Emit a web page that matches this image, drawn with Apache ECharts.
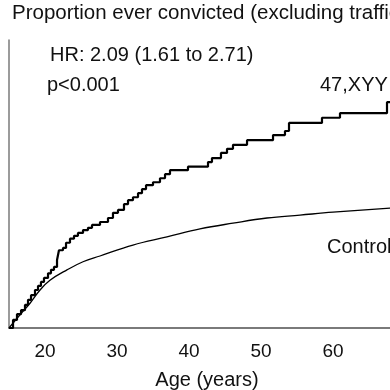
<!DOCTYPE html>
<html>
<head>
<meta charset="utf-8">
<script src="https://cdn.jsdelivr.net/npm/echarts@6/dist/echarts.min.js"></script>
<style>
html,body{margin:0;padding:0;background:#fff;}
#chart{width:390px;height:390px;}
</style>
</head>
<body>
<div id="chart"></div>
<script>
// Kaplan-Meier style cumulative proportion ever convicted
const xyyAges = [15.0, 15.56, 16.11, 16.67, 17.22, 17.64, 18.06, 18.61, 19.03, 19.44, 19.86, 20.42, 20.83, 21.25, 21.67, 21.94, 22.5, 22.92, 23.47, 24.03, 24.58, 25.28, 25.97, 26.53, 27.64, 28.75, 29.44, 30.14, 30.97, 31.53, 32.22, 32.92, 33.47, 34.03, 35.0, 35.97, 36.67, 37.36, 39.86, 42.64, 43.19, 44.44, 45.28, 46.11, 48.06, 51.67, 53.33, 53.89, 58.47, 60.97, 67.5, 70.0];
const xyyProportion = [0, 0.014, 0.024, 0.031, 0.040, 0.049, 0.057, 0.066, 0.073, 0.080, 0.087, 0.095, 0.101, 0.106, 0.118, 0.135, 0.139, 0.148, 0.155, 0.160, 0.165, 0.170, 0.174, 0.179, 0.184, 0.191, 0.200, 0.205, 0.215, 0.222, 0.227, 0.234, 0.241, 0.248, 0.253, 0.260, 0.267, 0.274, 0.280, 0.288, 0.295, 0.304, 0.311, 0.318, 0.326, 0.335, 0.342, 0.356, 0.365, 0.373, 0.392, 0.392];
const controlAges = [15.0, 16.53, 17.92, 19.31, 20.69, 23.06, 25.28, 27.64, 32.22, 36.94, 41.53, 46.11, 50.83, 55.42, 60.0, 67.92, 70.0];
const controlProportion = [0, 0.023, 0.043, 0.066, 0.083, 0.101, 0.115, 0.125, 0.144, 0.158, 0.172, 0.182, 0.191, 0.196, 0.201, 0.208, 0.209];
const xTickLabels = [20, 30, 40, 50, 60, 70];
const titleText = "Proportion ever convicted (excluding traffic offences)";
const hrText = "HR: 2.09 (1.61 to 2.71)";
const pText = "p<0.001";
const xyyLabel = "47,XYY";
const controlLabel = "Control";
const xAxisName = "Age (years)";

const font = "'Liberation Sans', Arial, sans-serif";
const chart = echarts.init(document.getElementById('chart'), null, {renderer: 'canvas'});

const xyyData = xyyAges.map((a, i) => [a, xyyProportion[i]]);
const controlData = controlAges.map((a, i) => [a, controlProportion[i]]);

chart.setOption({
  animation: false,
  backgroundColor: '#fff',
  grid: {left: 9, top: 40, right: -15, bottom: 62, containLabel: false, outerBoundsMode: 'none'},
  xAxis: {
    type: 'value', min: 15, max: 70, interval: 5,
    name: xAxisName, nameLocation: 'middle', nameGap: 42,
    nameTextStyle: {fontFamily: font, fontSize: 20, color: '#111'},
    axisLine: {show: true, lineStyle: {color: '#7a7a7a', width: 2}},
    axisTick: {show: false},
    splitLine: {show: false},
    axisLabel: {
      fontFamily: font, fontSize: 19, color: '#111', margin: 14,
      formatter: v => xTickLabels.indexOf(v) >= 0 ? String(v) : ''
    }
  },
  yAxis: {
    type: 'value', min: 0, max: 0.5,
    axisLine: {show: true, lineStyle: {color: '#7a7a7a', width: 1.5}},
    axisTick: {show: false},
    axisLabel: {show: false},
    splitLine: {show: false}
  },
  series: [
    {
      name: xyyLabel, type: 'line', step: 'end', data: xyyData,
      showSymbol: false, symbol: 'none',
      lineStyle: {color: '#000', width: 2.2}
    },
    {
      name: controlLabel, type: 'line', smooth: 0.4, data: controlData,
      showSymbol: false, symbol: 'none',
      lineStyle: {color: '#000', width: 1.3}
    }
  ],
  graphic: [
    {type: 'text', left: 12, top: 3, style: {text: titleText, font: '20.5px ' + font, fill: '#111'}},
    {type: 'text', left: 50, top: 45, style: {text: hrText, font: '20px ' + font, fill: '#111'}},
    {type: 'text', left: 47, top: 75, style: {text: pText, font: '20px ' + font, fill: '#111'}},
    {type: 'text', left: 320, top: 75, style: {text: xyyLabel, font: '20px ' + font, fill: '#111'}},
    {type: 'text', left: 327, top: 237, style: {text: controlLabel, font: '20px ' + font, fill: '#111'}}
  ]
});
</script>
</body>
</html>
